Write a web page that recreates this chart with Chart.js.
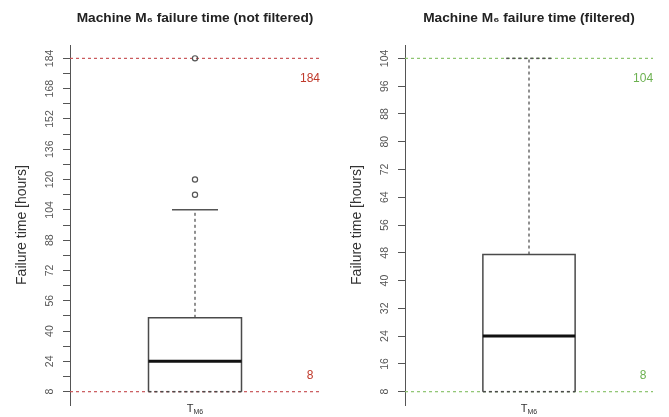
<!DOCTYPE html>
<html><head><meta charset="utf-8">
<script src="https://cdn.jsdelivr.net/npm/chart.js@4.4.1/dist/chart.umd.min.js"></script>
<style>
html,body{margin:0;padding:0;background:#fff;}
#wrap{position:relative;width:669px;height:417px;overflow:hidden;}
canvas{position:absolute;top:0;}
</style></head><body>
<div id="wrap">
<canvas id="c1" width="335" height="417" style="left:0"></canvas>
<canvas id="c2" width="334" height="417" style="left:335px"></canvas>
</div>
<script>
// ---------------- data ----------------
const panelTitles = ['Machine M\u2086 failure time (not filtered)', 'Machine M\u2086 failure time (filtered)'];
const yAxisTitle = 'Failure time [hours]';
const categoryMain = 'T';
const categorySub = 'M6';

// box statistics: [lower whisker, Q1, median, Q3, upper whisker]
const leftBox = [8, 8, 24, 47, 104];
const leftOutliers = [112, 120, 184];
const leftRefLines = [184, 8];
const leftTickValues = [8, 16, 24, 32, 40, 48, 56, 64, 72, 80, 88, 96, 104, 112, 120, 128, 136, 144, 152, 160, 168, 176, 184];
const leftTickLabels = [8, 24, 40, 56, 72, 88, 104, 120, 136, 152, 168, 184];
const leftYRange = [0.96, 191.04];

const rightBox = [8, 8, 24, 47.5, 104];
const rightOutliers = [];
const rightRefLines = [104, 8];
const rightTickValues = [8, 16, 24, 32, 40, 48, 56, 64, 72, 80, 88, 96, 104];
const rightTickLabels = [8, 16, 24, 32, 40, 48, 56, 64, 72, 80, 88, 96, 104];
const rightYRange = [4.16, 107.84];

// ---------------- styling / layout ----------------
const FONT = '"Liberation Sans", Arial, Helvetica, sans-serif';
const CENTER = 1, HALF_W = 0.372, CAP_HALF = 0.184, LABEL_X = 1.92;

function seg(data, color, width, dash, order) {
  return { data, showLine: true, borderColor: color, borderWidth: width, borderDash: dash || [],
           pointRadius: 0, pointHoverRadius: 0, fill: false, tension: 0, order };
}

const annotPlugin = {
  id: 'annot',
  afterDatasetsDraw(chart, args, opts) {
    const { ctx, scales: { x, y } } = chart;
    ctx.save();
    ctx.font = '12px ' + FONT;
    ctx.fillStyle = opts.color;
    ctx.textAlign = 'center';
    ctx.textBaseline = 'middle';
    const lx = x.getPixelForValue(LABEL_X);
    ctx.fillText(String(opts.refs[0]), lx, y.getPixelForValue(opts.refs[0]) + 20);
    ctx.fillText(String(opts.refs[1]), lx, y.getPixelForValue(opts.refs[1]) - 16);
    // category label  T_M6
    const cx = x.getPixelForValue(CENTER);
    ctx.fillStyle = '#333';
    ctx.textAlign = 'left';
    ctx.font = '11px ' + FONT;
    const w1 = ctx.measureText(categoryMain).width;
    ctx.font = '7px ' + FONT;
    const w2 = ctx.measureText(categorySub).width;
    const sx = cx - (w1 + w2) / 2;
    ctx.font = '11px ' + FONT;
    ctx.fillText(categoryMain, sx, 409);
    ctx.font = '7px ' + FONT;
    ctx.fillText(categorySub, sx + w1, 412);
    ctx.restore();
  }
};

function buildPanel(id, title, box, outliers, refLines, refColor, refTextColor, tickValues, tickLabels, yRange, padRight) {
  const [wLo, q1, med, q3, wHi] = box;
  const L = CENTER - HALF_W, R = CENTER + HALF_W;
  const datasets = [
    { data: outliers.map(v => ({ x: CENTER, y: v })), showLine: false, pointRadius: 2.6, pointHoverRadius: 2.6,
      pointBorderColor: '#555', pointBackgroundColor: 'rgba(255,255,255,0)', pointBorderWidth: 1.2, order: 0 },
    seg([{ x: L, y: med }, { x: R, y: med }], '#111', 3, [], 1),
    seg([{ x: L, y: q1 }, { x: L, y: q3 }, { x: R, y: q3 }, { x: R, y: q1 }], '#4a4a4a', 1.5, [], 2),
    seg([{ x: L, y: q1 }, { x: R, y: q1 }], '#4a4a4a', 1.5, [3, 3], 2),
    seg([{ x: CENTER, y: q3 }, { x: CENTER, y: wHi }], '#555', 1.3, [3, 3], 3),
    seg([{ x: CENTER - CAP_HALF, y: wHi }, { x: CENTER + CAP_HALF, y: wHi }], '#555', 1.5, (wHi === refLines[0] ? [3, 3] : []), 3),
    seg([{ x: CENTER, y: wLo }, { x: CENTER, y: q1 }], '#555', 1.3, [3, 3], 3),
    seg([{ x: 0, y: refLines[0] }, { x: 2, y: refLines[0] }], refColor, 1.2, [3, 3], 5),
    seg([{ x: 0, y: refLines[1] }, { x: 2, y: refLines[1] }], refColor, 1.2, [3, 3], 5)
  ];
  return new Chart(document.getElementById(id), {
    type: 'scatter',
    data: { datasets },
    plugins: [annotPlugin],
    options: {
      responsive: false,
      animation: false,
      devicePixelRatio: 1,
      events: [],
      layout: { padding: { left: 0, right: padRight, top: 0, bottom: 12 } },
      plugins: {
        legend: { display: false },
        tooltip: { enabled: false },
        title: { display: true, text: title, fullSize: false, color: '#222',
                 font: { size: 13.7, weight: 'bold', family: FONT }, padding: { top: 9.8, bottom: 18.8 } },
        annot: { color: refTextColor, refs: refLines }
      },
      scales: {
        x: { type: 'linear', min: 0, max: 2, display: false },
        y: {
          type: 'linear', position: 'left', min: yRange[0], max: yRange[1],
          afterBuildTicks: s => { s.ticks = tickValues.map(v => ({ value: v })); },
          afterFit: s => { s.width = 70; },
          ticks: { autoSkip: false, minRotation: 90, maxRotation: 90, crossAlign: 'center', padding: 4,
                   color: '#555', font: { size: 10.5, family: FONT },
                   callback: v => tickLabels.includes(v) ? String(v) : '' },
          grid: { drawOnChartArea: false, drawTicks: true, tickLength: 7, color: '#555', lineWidth: 1 },
          border: { display: true, color: '#555', width: 1 },
          title: { display: true, text: yAxisTitle, color: '#333', font: { size: 14, family: FONT },
                   padding: { top: 13.6, bottom: 0 } }
        }
      }
    }
  });
}

buildPanel('c1', panelTitles[0], leftBox, leftOutliers, leftRefLines, '#c9575a', '#c0392b',
           leftTickValues, leftTickLabels, leftYRange, 15);
buildPanel('c2', panelTitles[1], rightBox, rightOutliers, rightRefLines, '#8cc46e', '#6cb150',
           rightTickValues, rightTickLabels, rightYRange, 16);
</script>
</body></html>
